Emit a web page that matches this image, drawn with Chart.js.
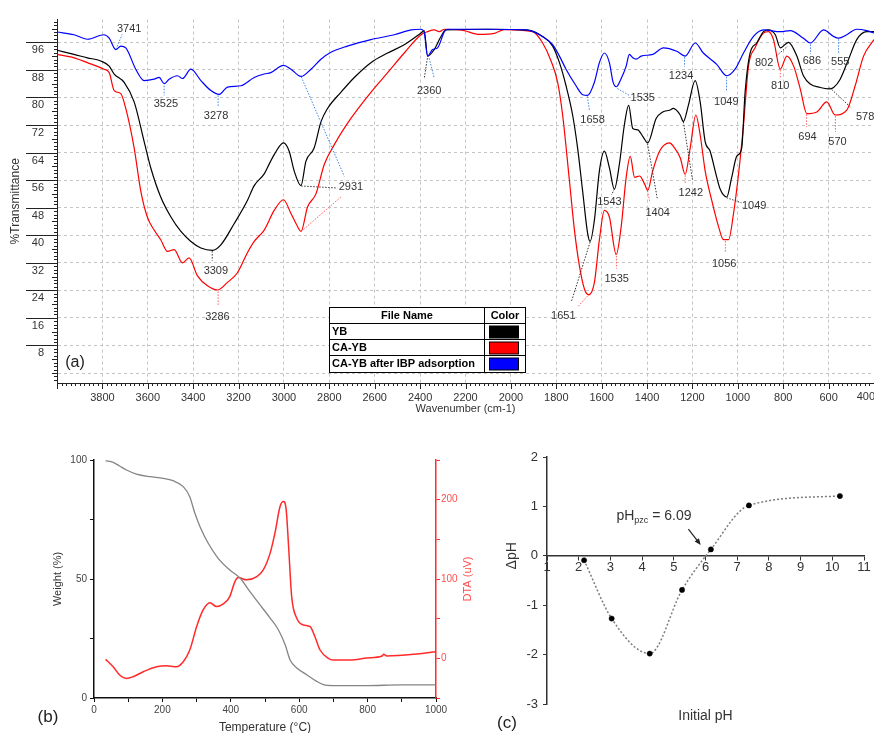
<!DOCTYPE html>
<html>
<head>
<meta charset="utf-8">
<title>FTIR, TGA/DTA and pHpzc</title>
<script src="https://cdn.jsdelivr.net/npm/chart.js@4.4.0/dist/chart.umd.min.js"></script>
<style>
  html, body { margin:0; padding:0; background:#fff; }
  body { width:874px; height:733px; overflow:hidden; position:relative; }
  canvas { position:absolute; }
  #ftir { left:0; top:0; }
  #tga { left:0; top:430px; }
  #pzc { left:480px; top:430px; }
</style>
</head>
<body>
<canvas id="ftir" width="874" height="418"></canvas>
<canvas id="tga" width="480" height="303"></canvas>
<canvas id="pzc" width="394" height="303"></canvas>
<script>
// ---- (a) FTIR spectra : wavenumber (cm-1) / %T ----
const ybWave = [4000,3925,3866,3807,3770,3748,3704,3660,3616,3587,3543,3498,3454,3410,3366,3315,3278,3219,3161,3131,3087,3073,3043,3002,2977,2955,2925,2903,2867,2837,2808,2749,2690,2617,2543,2470,2396,2382,2367,2338,2308,2286,2100,1933,1860,1816,1786,1757,1728,1706,1684,1662,1651,1632,1610,1588,1566,1544,1522,1500,1481,1463,1441,1419,1397,1360,1331,1301,1284,1254,1240,1218,1188,1166,1144,1122,1100,1078,1049,1027,1005,983,968,946,917,887,865,835,813,777,740,711,681,637,600,578,549,512,476,432,400];
const ybT = [93.7,92.5,91.5,90.6,89.1,86.8,84.4,78.7,67.2,59.6,51.1,45.3,41.1,38.2,36.3,35.6,37.2,43.4,50.1,54.4,57.8,59.6,63.4,66.8,64.4,58.7,54.4,61.5,65.3,72.9,76.8,81.5,85.8,90.1,92.9,95.3,98.7,99.4,92.0,93.9,97.7,99.6,99.8,99.6,97.7,94.9,90.1,83.4,74.9,65.3,52.9,40.6,38.2,44.4,58.7,64.4,59.6,53.4,60.6,72.0,77.7,71.0,70.6,68.7,66.8,73.9,75.8,76.3,76.8,74.9,73.0,77.7,84.9,78.7,67.2,64.4,58.7,53.4,51.1,56.8,62.9,65.3,81.5,92.9,95.8,99.1,99.6,98.2,94.4,96.0,92.0,86.3,83.9,82.9,82.5,82.9,85.3,91.1,96.8,99.1,99.1];

const caWave = [4000,3925,3866,3793,3770,3748,3719,3697,3660,3631,3602,3572,3543,3513,3484,3447,3418,3381,3337,3293,3249,3205,3161,3131,3087,3043,3002,2969,2947,2925,2896,2859,2822,2778,2705,2617,2543,2470,2396,2367,2338,2316,2293,2227,2206,2139,2073,2029,1904,1860,1823,1794,1772,1742,1720,1698,1676,1657,1632,1610,1588,1566,1536,1514,1492,1474,1455,1433,1411,1397,1375,1345,1301,1284,1254,1232,1210,1185,1166,1144,1115,1085,1063,1041,1019,997,975,953,924,887,865,843,813,784,754,725,696,652,608,571,520,483,446,400];
const caT = [92.5,91.5,90.1,88.2,87.2,82.0,81.1,76.8,65.3,52.9,45.3,41.5,38.7,35.3,35.8,32.0,33.4,28.2,25.3,24.1,26.3,29.1,34.9,38.2,41.5,47.2,50.3,46.3,43.4,41.1,48.2,52.0,60.6,66.3,73.9,81.5,87.2,92.9,98.2,99.1,99.6,99.1,99.8,99.6,99.4,98.3,98.6,99.7,99.1,95.8,90.6,84.4,74.9,55.8,41.5,31.1,24.4,22.7,26.3,38.7,47.2,45.3,34.4,42.5,56.8,62.9,56.8,57.2,54.9,53.0,58.7,64.4,66.8,65.8,62.5,57.7,65.3,74.9,69.1,58.7,50.1,42.5,38.7,38.7,46.3,57.7,72.0,89.1,94.4,98.7,99.1,96.8,88.2,92.0,89.1,82.5,75.3,75.8,78.7,74.9,76.3,83.4,92.0,96.8];

const ibpWave = [4000,3925,3866,3793,3770,3741,3719,3697,3653,3616,3572,3550,3528,3506,3469,3447,3410,3366,3322,3285,3249,3190,3131,3087,3058,3002,2969,2925,2881,2837,2793,2721,2617,2514,2440,2396,2382,2367,2345,2323,2293,2279,2100,1933,1875,1816,1786,1757,1713,1684,1662,1632,1610,1588,1566,1550,1536,1514,1492,1478,1463,1448,1426,1375,1328,1269,1232,1188,1152,1093,1049,1012,975,931,887,813,769,711,681,622,578,556,520,476,432,400];
const ibpT = [99.0,98.2,96.9,98.2,97.2,93.9,94.9,94.4,88.2,84.9,85.3,85.8,84.0,85.3,86.3,85.5,88.2,84.9,82.0,80.9,83.0,83.4,85.8,86.8,87.2,89.3,88.2,86.1,88.2,91.1,93.1,94.9,96.8,98.2,99.6,99.8,98.9,92.0,93.9,94.4,99.1,99.8,99.8,99.6,98.2,95.3,92.0,88.2,83.4,80.8,80.6,84.4,90.1,92.9,90.1,84.5,83.1,85.5,89.1,92.5,91.5,91.1,92.0,92.5,94.4,93.4,92.0,95.8,92.9,89.6,86.3,88.2,92.9,97.7,99.6,99.1,99.4,97.2,95.8,99.6,97.7,97.2,98.2,99.8,99.4,98.7];

// peak labels: text, wavenumber and %T of the label centre
const peakText  = ['3741','3525','3278','2931','2360','1658','1535','1234','1049','802','810','686','555','578','694','570','1242','1049','1056','1543','1404','1535','1651','3309','3286'];
const peakWave  = [3682,3520,3299,2705,2360,1640,1419,1250,1051,884,813,674,549,439,693,561,1207,928,1060,1566,1353,1534,1769,3300,3293];
const peakLevel = [100.0,78.2,74.7,53.9,82.0,73.4,79.8,86.1,78.7,89.9,83.2,90.6,90.3,74.4,68.4,67.1,52.3,48.4,31.8,49.6,46.5,27.2,16.6,29.6,16.3];
// dotted leaders: series, from (cm-1, %T) to (cm-1, %T)
const leaders = [
  ['b',3740,94.0,3713,98.3], ['b',3528,83.4,3528,80.6], ['b',3290,80.6,3290,77.4],
  ['k',2924,54.3,2765,53.7], ['b',2924,86.0,2734,57.1], ['r',2924,41.1,2749,51.1],
  ['k',2368,91.4,2382,85.4], ['b',2360,91.4,2338,85.7],
  ['b',1663,80.3,1654,76.3], ['b',1531,82.6,1478,80.6], ['b',1235,91.7,1235,88.9], ['b',1050,86.0,1050,81.7],
  ['k',831,92.0,780,94.9], ['r',813,88.0,813,85.7], ['b',680,95.4,680,92.6], ['b',556,96.9,556,92.6],
  ['k',596,82.9,499,76.9], ['r',697,75.1,697,71.4], ['r',570,74.6,570,70.0],
  ['r',1232,57.4,1232,54.9], ['k',1240,72.9,1199,55.7], ['k',1050,50.9,984,49.4], ['r',1055,38.3,1055,34.9],
  ['k',1544,53.4,1557,51.7], ['k',1398,66.6,1354,50.3], ['r',1398,52.9,1389,50.0], ['r',1535,34.0,1535,30.3],
  ['k',1651,38.0,1734,20.6], ['r',1663,22.3,1707,19.1], ['k',3316,35.4,3316,32.6], ['r',3290,23.7,3290,19.7]
];
const legendNames = ['YB','CA-YB','CA-YB after IBP adsorption'];

// ---- (b) TGA / DTA ----
const tgaTemp = [34,56,75,95,124,163,202,231,261,280,295,310,334,363,397,427,456,485,515,539,559,573,593,622,651,671,700,798,895,1000];
const tgaWeight = [99.7,99,97.5,95.8,94.1,93,92.3,91.3,88.8,84.6,77.6,72,65,58.7,53.8,50.4,44.7,39.2,33.6,28.7,22.4,16.1,12.6,9.8,7,5.6,5.2,5.2,5.5,5.5];
const dtaTemp = [34,56,75,95,114,144,183,212,241,261,280,300,319,339,358,378,397,412,422,446,476,495,515,529,544,554,562,569,578,593,612,632,646,661,685,700,749,798,842,847,856,944,1000];
const dtaSignal = [-1.3,-10.6,-21,-25.3,-23.2,-16.9,-10.6,-9.3,-10.6,-4.3,10.5,39.9,61,70.2,65.2,68.6,77.8,96.7,101.8,98.9,103,111.5,132.6,157.8,191.4,197.7,187.2,140.9,77.8,50.5,42,39.9,27.3,10.5,0,-2.1,-2.1,0.4,2.9,5,2.9,5.4,8.3];

// ---- (c) point of zero charge ----
const initialPH = [2.17,3.04,4.24,5.26,6.17,7.37,10.24];
const deltaPH = [-0.09,-1.27,-1.98,-0.69,0.13,1.02,1.21];
const pzcText = [3.19, 0.80];
const pzcArrow = [5.46, 0.54, 5.85, 0.22];

const SANS = '"Liberation Sans", Arial, sans-serif';
Chart.defaults.font.family = SANS;
Chart.defaults.animation = false;

const toXY = (xs, ys) => xs.map((v, i) => ({x: v, y: ys[i]}));
const leaderColor = {b:'#3b86e8', k:'#333', r:'#ff5a5a'};

const ftirMarks = {
  id: 'ftirMarks',
  afterDraw(chart) {
    const {ctx, chartArea: a, scales: {x, y}} = chart;
    ctx.save();
    // minor / major ticks
    ctx.strokeStyle = '#222'; ctx.lineWidth = 1;
    ctx.beginPath();
    for (let w = 400; w <= 4000; w += 20) {
      const px = Math.round(x.getPixelForValue(w)) + 0.5;
      ctx.moveTo(px, a.bottom); ctx.lineTo(px, a.bottom + (w % 200 === 0 ? 6 : 3));
    }
    for (let t = -2; t <= 102; t++) {
      const py = Math.round(y.getPixelForValue(t)) + 0.5;
      const len = (t % 8 === 0 && t > 0) ? 31 : (t % 4 === 0 ? 5 : 3);
      ctx.moveTo(a.left - len, py); ctx.lineTo(a.left, py);
    }
    ctx.stroke();

    // last x label sits inside the right edge
    ctx.fillStyle = '#333';
    ctx.font = '11px ' + SANS;
    ctx.textAlign = 'right'; ctx.textBaseline = 'top';
    ctx.fillText('400', x.getPixelForValue(400) + 1, a.bottom + 8);

    // leaders
    ctx.lineWidth = 1;
    ctx.setLineDash([1.5, 1.5]);
    leaders.forEach(([s, w1, t1, w2, t2]) => {
      ctx.strokeStyle = leaderColor[s];
      ctx.beginPath();
      ctx.moveTo(x.getPixelForValue(w1), y.getPixelForValue(t1));
      ctx.lineTo(x.getPixelForValue(w2), y.getPixelForValue(t2));
      ctx.stroke();
    });
    ctx.setLineDash([]);

    // peak labels
    ctx.fillStyle = '#333';
    ctx.font = '11px ' + SANS;
    ctx.textAlign = 'center'; ctx.textBaseline = 'middle';
    peakText.forEach((s, i) => ctx.fillText(s, x.getPixelForValue(peakWave[i]), y.getPixelForValue(peakLevel[i])));

    // legend table
    const L = 329.5, R = 525.5, C = 484.5, rows = [307.5, 323.5, 339.5, 355.5, 372.5];
    ctx.fillStyle = '#fff';
    ctx.fillRect(L, rows[0], R - L, rows[4] - rows[0]);
    ctx.strokeStyle = '#000'; ctx.lineWidth = 1;
    ctx.strokeRect(L, rows[0], R - L, rows[4] - rows[0]);
    ctx.beginPath();
    rows.slice(1, 4).forEach(r => { ctx.moveTo(L, r); ctx.lineTo(R, r); });
    ctx.moveTo(C, rows[0]); ctx.lineTo(C, rows[4]);
    ctx.stroke();
    ctx.fillStyle = '#000';
    ctx.font = 'bold 11px ' + SANS;
    ctx.textAlign = 'center';
    ctx.fillText('File Name', (L + C) / 2, 316);
    ctx.fillText('Color', (C + R) / 2, 316);
    ctx.textAlign = 'left';
    const sw = ['#000', '#ff0000', '#0000ff'];
    legendNames.forEach((n, i) => {
      ctx.fillStyle = '#000';
      ctx.fillText(n, 332, rows[i + 1] + 8.5);
      ctx.fillStyle = sw[i];
      ctx.fillRect(489.5, rows[i + 1] + 2.5, 29, 12);
      ctx.strokeRect(489.5, rows[i + 1] + 2.5, 29, 12);
    });

    ctx.fillStyle = '#222';
    ctx.font = '16px ' + SANS;
    ctx.textAlign = 'center';
    ctx.fillText('(a)', 75, 363);
    ctx.restore();
  }
};

new Chart(document.getElementById('ftir'), {
  type: 'line',
  data: {datasets: [
    {label: 'CA-YB after IBP adsorption', data: toXY(ibpWave, ibpT), borderColor: '#0000ff'},
    {label: 'YB', data: toXY(ybWave, ybT), borderColor: '#000000'},
    {label: 'CA-YB', data: toXY(caWave, caT), borderColor: '#ff0000'}
  ]},
  options: {
    responsive: false,
    animation: false,
    layout: {padding: {top: 13, left: 0, right: 0, bottom: 0}},
    elements: {point: {radius: 0}, line: {borderWidth: 1.2, cubicInterpolationMode: 'monotone'}},
    plugins: {legend: {display: false}, tooltip: {enabled: false}},
    scales: {
      x: {
        type: 'linear', reverse: true, min: 400, max: 4000,
        afterFit(s) { s.height = 35; s.paddingLeft = 0; s.paddingRight = 0; },
        ticks: {stepSize: 200, autoSkip: false, maxRotation: 0, padding: 8, color: '#333', font: {size: 11},
          callback: v => (v === 4000 || v === 400) ? '' : v},
        grid: {color: '#c4c4c4', drawTicks: false},
        border: {color: '#222', width: 1, dash: [3, 3]},
        title: {display: true, text: 'Wavenumber (cm-1)', color: '#333', font: {size: 11}, padding: {top: 0, bottom: 2}}
      },
      y: {
        type: 'linear', min: -2.9, max: 102.6,
        afterFit(s) { s.width = 57; },
        ticks: {stepSize: 8, includeBounds: false, padding: 13, labelOffset: 8, color: '#333', font: {size: 11},
          callback: v => v === 0 ? '' : v},
        grid: {color: '#c4c4c4', drawTicks: false},
        border: {color: '#222', width: 1, dash: [3, 3]},
        title: {display: true, text: '%Transmittance', color: '#333', font: {size: 12}, padding: {top: 8}}
      }
    }
  },
  plugins: [ftirMarks]
});

const tgaNotes = {
  id: 'tgaNotes',
  afterDraw(chart) {
    const {ctx, scales: {y1}} = chart;
    ctx.save();
    ctx.fillStyle = '#ff4d4d';
    ctx.font = '11px ' + SANS;
    ctx.textAlign = 'center'; ctx.textBaseline = 'middle';
    ctx.translate(468, (y1.top + y1.bottom) / 2);
    ctx.rotate(-Math.PI / 2);
    ctx.fillText('DTA (uV)', 0, 0);
    ctx.restore();
    ctx.save();
    ctx.fillStyle = '#222';
    ctx.font = '17px ' + SANS;
    ctx.textAlign = 'center'; ctx.textBaseline = 'middle';
    ctx.fillText('(b)', 48, 287);
    ctx.restore();
  }
};

new Chart(document.getElementById('tga'), {
  type: 'line',
  data: {datasets: [
    {data: toXY(tgaTemp, tgaWeight), borderColor: '#858585', yAxisID: 'y'},
    {data: toXY(dtaTemp, dtaSignal), borderColor: '#ff2a2a', yAxisID: 'y1', borderWidth: 1.5}
  ]},
  options: {
    responsive: false,
    animation: false,
    layout: {padding: {top: 30, left: 0, right: 0, bottom: 0}},
    elements: {point: {radius: 0}, line: {borderWidth: 1.3, cubicInterpolationMode: 'monotone'}},
    plugins: {legend: {display: false}, tooltip: {enabled: false}},
    scales: {
      x: {
        type: 'linear', min: 0, max: 1000,
        afterFit(s) { s.height = 35; },
        ticks: {stepSize: 100, autoSkip: false, maxRotation: 0, padding: 2, color: '#444', font: {size: 10},
          callback: v => v % 200 === 0 ? v : ''},
        grid: {drawOnChartArea: false, tickLength: 4, color: '#111'},
        border: {color: '#111', width: 1.5},
        title: {display: true, text: 'Temperature (°C)', color: '#333', font: {size: 12}, padding: {top: 0, bottom: -2}}
      },
      y: {
        position: 'left', min: 0, max: 100,
        afterFit(s) { s.width = 94; },
        ticks: {stepSize: 25, padding: 3, color: '#444', font: {size: 10}, callback: v => v % 50 === 0 ? v : ''},
        grid: {drawOnChartArea: false, tickLength: 4, color: '#111'},
        border: {color: '#111', width: 1.5},
        title: {display: true, text: 'Weight (%)', color: '#333', font: {size: 11}, padding: {top: 51}}
      },
      y1: {
        position: 'right', min: -50, max: 250,
        afterFit(s) { s.width = 44; },
        ticks: {stepSize: 50, padding: 1, color: '#ff5050', font: {size: 10}, callback: v => v % 100 === 0 ? v : ''},
        grid: {drawOnChartArea: false, tickLength: 4, color: '#ff2a2a'},
        border: {color: '#ff2a2a', width: 1.5}
      }
    }
  },
  plugins: [tgaNotes]
});

const pzcNotes = {
  id: 'pzcNotes',
  afterDraw(chart) {
    const {ctx, chartArea: a, scales: {x, y}} = chart;
    ctx.save();
    ctx.fillStyle = '#333';
    ctx.textBaseline = 'middle';
    ctx.font = '14px ' + SANS;
    ctx.textAlign = 'center';
    ctx.fillText('Initial pH', (a.left + a.right) / 2, 286);
    ctx.save();
    ctx.translate(32, y.getPixelForValue(0));
    ctx.rotate(-Math.PI / 2);
    ctx.fillText('\u0394pH', 0, 0);
    ctx.restore();

    // pHpzc label
    const px = x.getPixelForValue(pzcText[0]), py = y.getPixelForValue(pzcText[1]);
    ctx.textAlign = 'left';
    ctx.font = '14px ' + SANS;
    ctx.fillText('pH', px, py);
    let w = ctx.measureText('pH').width;
    ctx.font = '9px ' + SANS;
    ctx.fillText('pzc', px + w, py + 4);
    w += ctx.measureText('pzc').width;
    ctx.font = '14px ' + SANS;
    ctx.fillText(' = 6.09', px + w, py);

    // arrow
    const x1 = x.getPixelForValue(pzcArrow[0]), y1 = y.getPixelForValue(pzcArrow[1]);
    const x2 = x.getPixelForValue(pzcArrow[2]), y2 = y.getPixelForValue(pzcArrow[3]);
    const ang = Math.atan2(y2 - y1, x2 - x1);
    ctx.strokeStyle = '#222'; ctx.lineWidth = 1.2;
    ctx.beginPath(); ctx.moveTo(x1, y1); ctx.lineTo(x2 - 4 * Math.cos(ang), y2 - 4 * Math.sin(ang)); ctx.stroke();
    ctx.fillStyle = '#222';
    ctx.beginPath();
    ctx.moveTo(x2, y2);
    ctx.lineTo(x2 - 7 * Math.cos(ang - 0.4), y2 - 7 * Math.sin(ang - 0.4));
    ctx.lineTo(x2 - 7 * Math.cos(ang + 0.4), y2 - 7 * Math.sin(ang + 0.4));
    ctx.closePath(); ctx.fill();

    ctx.fillStyle = '#222';
    ctx.font = '17px ' + SANS;
    ctx.textAlign = 'center';
    ctx.fillText('(c)', 27, 293);
    ctx.restore();
  }
};

new Chart(document.getElementById('pzc'), {
  type: 'line',
  data: {datasets: [{
    data: toXY(initialPH, deltaPH),
    borderColor: '#7d7d7d', borderWidth: 1.5, borderDash: [2, 2],
    cubicInterpolationMode: 'monotone',
    pointRadius: 2.6, pointBorderWidth: 0.5, pointBackgroundColor: '#000', pointBorderColor: '#000'
  }]},
  options: {
    responsive: false,
    animation: false,
    layout: {padding: {top: 27, right: 10, bottom: 29, left: 0}},
    plugins: {legend: {display: false}, tooltip: {enabled: false}},
    scales: {
      x: {
        type: 'linear', position: {y: 0}, min: 1, max: 11,
        ticks: {stepSize: 1, autoSkip: false, maxRotation: 0, padding: 0, color: '#333', font: {size: 13}},
        grid: {drawOnChartArea: false, tickLength: 4, color: '#333'},
        border: {color: '#333', width: 1.5}
      },
      y: {
        min: -3, max: 2,
        afterFit(s) { s.width = 67; },
        ticks: {stepSize: 1, padding: 5, color: '#333', font: {size: 13}},
        grid: {drawOnChartArea: false, tickLength: 4, color: '#333'},
        border: {color: '#333', width: 1.5}
      }
    }
  },
  plugins: [pzcNotes]
});
</script>
</body>
</html>
